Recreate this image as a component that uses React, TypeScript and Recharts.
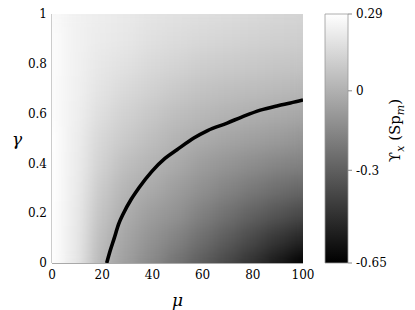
import React from 'react';
import { ScatterChart, Scatter, XAxis, YAxis, BarChart, Bar } from 'recharts';

const muVals = [0, 10, 20, 30, 40, 50, 60, 70, 80, 90, 100];
const gammaVals = [0, 0.1, 0.2, 0.3, 0.4, 0.5, 0.6, 0.7, 0.8, 0.9, 1];

// Upsilon_x, one row per gamma value, columns follow muVals
const upsilonRows = [
  [0.29, 0.2, 0.02, -0.07, -0.15, -0.23, -0.31, -0.39, -0.47, -0.56, -0.65],
  [0.29, 0.205, 0.04, -0.045, -0.11, -0.17, -0.245, -0.31, -0.38, -0.45, -0.51],
  [0.29, 0.21, 0.065, -0.015, -0.07, -0.11, -0.18, -0.235, -0.29, -0.335, -0.38],
  [0.29, 0.215, 0.09, 0.015, -0.025, -0.07, -0.12, -0.165, -0.205, -0.24, -0.27],
  [0.29, 0.22, 0.12, 0.05, 0.015, -0.025, -0.07, -0.1, -0.13, -0.155, -0.175],
  [0.29, 0.225, 0.14, 0.09, 0.05, 0.01, -0.015, -0.04, -0.06, -0.08, -0.1],
  [0.28, 0.23, 0.165, 0.12, 0.085, 0.05, 0.03, 0.01, -0.005, -0.02, -0.035],
  [0.28, 0.235, 0.185, 0.15, 0.12, 0.09, 0.07, 0.055, 0.045, 0.035, 0.025],
  [0.28, 0.24, 0.2, 0.18, 0.15, 0.13, 0.11, 0.1, 0.09, 0.08, 0.075],
  [0.28, 0.24, 0.215, 0.2, 0.175, 0.16, 0.145, 0.135, 0.125, 0.115, 0.11],
  [0.27, 0.24, 0.225, 0.21, 0.19, 0.18, 0.17, 0.16, 0.15, 0.14, 0.13],
];

// the zero contour
const contourMu = [21.8, 23.2, 24.8, 26.5, 28.5, 31.5, 34.5, 39.8, 45, 49.8, 56.5, 62, 69.8, 76, 83, 90, 95, 100];
const contourGamma = [0, 0.05, 0.1, 0.155, 0.2, 0.255, 0.3, 0.368, 0.42, 0.455, 0.502, 0.532, 0.562, 0.588, 0.614, 0.632, 0.643, 0.655];

const muTicks = [0, 20, 40, 60, 80, 100];
const gammaTicks = [0, 0.2, 0.4, 0.6, 0.8, 1];
const cbRange = [-0.65, 0.29];
const cbTicks = [0.29, 0, -0.3, -0.65];

const heatCells = gammaVals.flatMap((g, i) =>
  muVals.map((mu, j) => ({ mu, g, v: upsilonRows[i][j] }))
);
const contour = contourMu.map((mu, i) => ({ mu, g: contourGamma[i] }));
const cbData = [{ name: 'cb', range: cbRange }];

const SERIF = "'DejaVu Serif', 'Liberation Serif', serif";

const gray = (v: number) => {
  const t = (v - cbRange[0]) / (cbRange[1] - cbRange[0]);
  const c = Math.round(Math.max(0, Math.min(1, t)) * 255);
  return `rgb(${c},${c},${c})`;
};

const HeatCell = (props: any) => {
  const { cx, cy, payload } = props;
  return <rect x={cx - 13} y={cy - 13} width={26} height={26} fill={gray(payload.v)} />;
};

const CbLabel = (props: any) => {
  const vb = props.viewBox || { x: 48, y: 14, width: 60, height: 249 };
  const x = vb.x + 52;
  const y = vb.y + vb.height / 2 - 8;
  return (
    <text
      transform={`translate(${x},${y}) rotate(-90)`}
      textAnchor="middle"
      fontFamily={SERIF}
      fontSize={15}
      fill="#000"
    >
      <tspan>ϒ</tspan>
      <tspan dy={4} fontSize={11} fontStyle="italic">x</tspan>
      <tspan dy={-4}> (Sp</tspan>
      <tspan dy={4} fontSize={11} fontStyle="italic">m</tspan>
      <tspan dy={-4}>)</tspan>
    </text>
  );
};

export default function App() {
  return (
    <div style={{ position: 'absolute', left: 0, top: 0, width: 415, height: 310, background: '#fff' }}>
      <style>{`.heat { filter: url(#heatBlur); }`}</style>
      <svg width={0} height={0} style={{ position: 'absolute' }}>
        <defs>
          <filter id="heatBlur" x="-20%" y="-20%" width="140%" height="140%" colorInterpolationFilters="sRGB">
            <feGaussianBlur stdDeviation="9" />
            <feComponentTransfer>
              <feFuncA type="table" tableValues="1 1" />
            </feComponentTransfer>
          </filter>
          <linearGradient id="cbGrad" x1="0" y1="0" x2="0" y2="1">
            <stop offset="0%" stopColor="#fff" />
            <stop offset="100%" stopColor="#000" />
          </linearGradient>
        </defs>
      </svg>

      <ScatterChart width={415} height={310} margin={{ top: 14, right: 112, bottom: 0, left: 0 }}>
        <XAxis
          type="number"
          dataKey="mu"
          domain={[0, 100]}
          ticks={muTicks}
          allowDataOverflow
          tickLine={false}
          tickSize={0}
          tickMargin={7}
          height={47}
          axisLine={{ stroke: '#555' }}
          tick={{ fontSize: 12, fontFamily: SERIF, fill: '#000' }}
          label={{ value: 'μ', position: 'insideBottom', offset: 4, style: { fontSize: 17, fontStyle: 'italic', fontFamily: SERIF, fill: '#000' } }}
        />
        <XAxis
          xAxisId="top"
          orientation="top"
          type="number"
          domain={[0, 100]}
          tick={false}
          tickLine={false}
          height={0}
          axisLine={{ stroke: '#bbb' }}
        />
        <YAxis
          type="number"
          dataKey="g"
          domain={[0, 1]}
          ticks={gammaTicks}
          allowDataOverflow
          width={52}
          tickLine={false}
          tickSize={0}
          tickMargin={5}
          axisLine={{ stroke: '#999' }}
          tick={{ fontSize: 12, fontFamily: SERIF, fill: '#000' }}
          label={{ value: 'γ', position: 'insideLeft', offset: 12, style: { fontSize: 17, fontStyle: 'italic', fontFamily: SERIF, fill: '#000' } }}
        />
        <Scatter data={heatCells} shape={HeatCell} className="heat" isAnimationActive={false} />
        <Scatter
          data={contour}
          fill="#000"
          line={{ stroke: '#000', strokeWidth: 3.6 }}
          lineJointType="monotoneX"
          shape={() => <g />}
          isAnimationActive={false}
        />
      </ScatterChart>

      <div style={{ position: 'absolute', left: 300, top: 0 }}>
        <BarChart width={115} height={310} data={cbData} margin={{ top: 14, right: 7, bottom: 47, left: 25 }} barCategoryGap={0}>
          <XAxis dataKey="name" hide />
          <YAxis
            yAxisId="l"
            orientation="left"
            type="number"
            domain={cbRange}
            ticks={[0, -0.3]}
            width={0}
            tickSize={3}
            tickLine={{ stroke: '#888' }}
            axisLine={false}
            tickFormatter={() => ''}
          />
          <YAxis
            yAxisId="r"
            orientation="right"
            type="number"
            domain={cbRange}
            ticks={cbTicks}
            interval={0}
            width={60}
            tickSize={4}
            tickMargin={4}
            tickLine={{ stroke: '#888' }}
            axisLine={false}
            tick={{ fontSize: 12, fontFamily: SERIF, fill: '#000' }}
            label={CbLabel}
          />
          <Bar yAxisId="r" dataKey="range" fill="url(#cbGrad)" stroke="#999" strokeWidth={0.8} isAnimationActive={false} />
        </BarChart>
      </div>
    </div>
  );
}
